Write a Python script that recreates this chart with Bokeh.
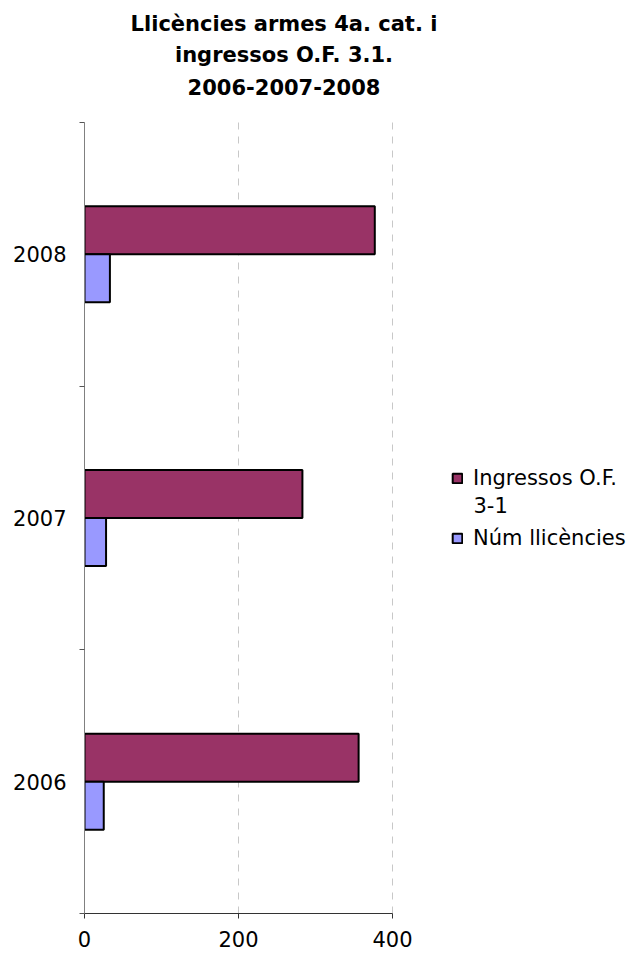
from bokeh.plotting import figure
from bokeh.models import (FixedTicker, Label, Legend, LegendItem, Range1d,
                          ColumnDataSource)
from bokeh.embed import file_html
from bokeh.resources import INLINE

# ---- data ----
years = ["2006", "2007", "2008"]
ingressos = [356, 283, 377]
llicencies = [25, 28, 33]
series_names = ["Ingressos O.F. 3-1", "Núm llicències"]
x_ticks = [0, 200, 400]
title_lines = ["Llicències armes 4a. cat. i", "ingressos O.F. 3.1.", "2006-2007-2008"]

# ---- layout ----
W, H = 639, 955
FRAME_L, FRAME_R, FRAME_T, FRAME_B = 84, 392, 122, 913
x_max = x_ticks[-1]
px_per_x = (FRAME_R - FRAME_L) / x_max
px_per_cat = (FRAME_B - FRAME_T) / len(years)
x_end = (W - FRAME_L) / px_per_x          # frame extends to the right edge
y_end = FRAME_B / px_per_cat              # frame extends to the top edge
TEXT_SHIFT = 9                            # baseline correction for screen labels

pos = [i + 0.5 for i in range(len(years))]
bar_h = 0.182
src = ColumnDataSource(dict(
    year=years, ing=ingressos, nll=llicencies,
    ing_y=[c + bar_h / 2 for c in pos],
    nll_y=[c - bar_h / 2 for c in pos],
))

FONT = "DejaVu Sans"

p = figure(width=W, height=H,
           x_range=Range1d(0, x_end), y_range=Range1d(0, y_end),
           output_backend="svg", toolbar_location=None,
           min_border_left=FRAME_L, min_border_right=0,
           min_border_top=0, min_border_bottom=H - FRAME_B)
p.outline_line_color = None
p.background_fill_color = "white"
p.border_fill_color = "white"

# grids (dashed verticals, only over the plot area)
p.ygrid.grid_line_color = None
grid = p.xgrid[0]
grid.ticker = FixedTicker(ticks=x_ticks[1:])
if hasattr(grid, "cross_bounds"):
    grid.cross_bounds = (0, len(years))
    grid.grid_line_color = "#c8c8c8"
    grid.grid_line_dash = "7 7"
    grid.grid_line_width = 1
else:
    grid.grid_line_color = None
    p.segment(x0=x_ticks[1:], x1=x_ticks[1:], y0=0, y1=len(years),
              line_color="#c8c8c8", line_dash="7 7", line_width=1)

r1 = p.hbar(y="ing_y", left=0, right="ing", height=bar_h, source=src,
            fill_color="#993366", line_color="black", line_width=2)
r2 = p.hbar(y="nll_y", left=0, right="nll", height=bar_h, source=src,
            fill_color="#9999FF", line_color="black", line_width=2)

# x axis
xa = p.xaxis[0]
xa.bounds = (0, x_max)
xa.ticker = FixedTicker(ticks=x_ticks, minor_ticks=[])
xa.major_tick_out = 5
xa.major_tick_in = 0
xa.minor_tick_out = 0
xa.minor_tick_in = 0
xa.axis_line_color = "#333333"
xa.major_tick_line_color = "#333333"
xa.major_label_standoff = 12
xa.major_label_text_font = FONT
xa.major_label_text_font_size = "21px"
xa.major_label_text_color = "black"

# y axis
ya = p.yaxis[0]
ya.bounds = (0, len(years))
ya.ticker = FixedTicker(ticks=pos, minor_ticks=list(range(len(years) + 1)))
ya.major_label_overrides = {c: y for c, y in zip(pos, years)}
ya.major_tick_out = 0
ya.major_tick_in = 0
ya.minor_tick_out = 5
ya.minor_tick_in = 0
ya.axis_line_color = "#808080"
ya.minor_tick_line_color = "#555555"
ya.major_label_standoff = 13
ya.major_label_text_font = FONT
ya.major_label_text_font_size = "21px"
ya.major_label_text_color = "black"

# legend
first_line, second_line = series_names[0].rsplit(" ", 1)
legend = Legend(items=[LegendItem(label=first_line, renderers=[r1]),
                       LegendItem(label=series_names[1], renderers=[r2])],
                location=(367, 363))
legend.border_line_color = None
legend.background_fill_alpha = 0
legend.padding = 0
legend.margin = 0
legend.spacing = 36
legend.glyph_width = 12
legend.glyph_height = 12
legend.label_standoff = 10
legend.label_text_font = FONT
legend.label_text_font_size = "21px"
legend.label_text_color = "black"
p.add_layout(legend)
p.add_layout(Label(x=389, y=399.5 + TEXT_SHIFT, x_units="screen", y_units="screen",
                   text=second_line, text_align="left", text_baseline="alphabetic",
                   text_font=FONT, text_font_size="21px", text_color="black"))

# title
baselines = [32, 63.5, 95]
for line, b in zip(title_lines, baselines):
    p.add_layout(Label(x=199.5, y=FRAME_B - b + TEXT_SHIFT,
                       x_units="screen", y_units="screen",
                       text=line, text_align="center", text_baseline="alphabetic",
                       text_font=FONT, text_font_style="bold",
                       text_font_size="21px", text_color="black"))

open("out.html", "w").write(file_html(p, INLINE))
